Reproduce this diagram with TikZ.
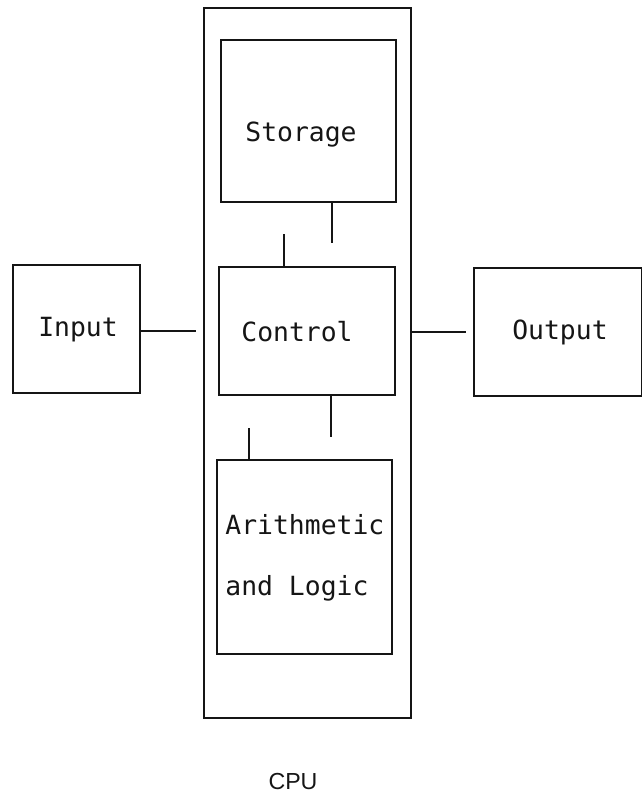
\documentclass[tikz,border=0pt]{standalone}
\usepackage{fontspec}
\setsansfont{Liberation Sans}
\setmonofont{DejaVu Sans Mono}
\usepackage{tikz}
\usetikzlibrary{positioning,calc}
\definecolor{ink}{HTML}{151515}
\tikzset{
  % --- nodes
  unit/.style  = {rectangle, draw=ink, line width=1.1pt, inner sep=0pt},
  txt/.style   = {font=\fontsize{13.2}{15}\selectfont\ttfamily, text=ink, inner sep=0pt},
  caption/.style = {font=\fontsize{11.6}{13}\selectfont\sffamily, text=ink, inner sep=0pt},
  % --- edges
  e/.style     = {draw=ink, line width=1.1pt},
}
\begin{document}
\begin{tikzpicture}[x=0.5pt,y=-0.5pt]
  \useasboundingbox (0,0) rectangle (642,794);

  % the processor and its parts
  \node[unit, minimum width=103.5pt, minimum height=355pt] (cpu) at (307.5,363) {};
  \node[unit, minimum width=87.5pt, minimum height=81pt]  (storage) at (308.5,121) {};
  \node[unit, minimum width=88pt, minimum height=64pt]    (control) at (307,331) {};
  \node[unit, minimum width=87.5pt, minimum height=97pt]  (alu) at (304.5,557) {};

  % outside units
  \node[unit, minimum width=63.5pt, minimum height=64pt]  (input) at (76.5,329) {};
  \node[unit, minimum width=84pt, minimum height=64pt]    (output) at (558,332) {};

  % texts
  \node[txt] (storagetxt) at (301,135) {Storage};
  \node[txt] (controltxt) at (297,332) {Control};
  \node[txt, anchor=west] (alutxt) at (225,525) {Arithmetic};
  \node[txt, anchor=west] (logictxt) at (225,588) {and Logic};
  \node[txt] (inputtxt) at (78,330) {Input};
  \node[txt] (outputtxt) at (560,332) {Output};
  \node[caption] (cputxt) at (293,782) {CPU};

  % loose ends of the links
  \coordinate (inend)  at (196,331);
  \coordinate (outend) at (466,332);
  \coordinate (s1) at (332,243);
  \coordinate (c1) at (284,234);
  \coordinate (c2) at (331,437);
  \coordinate (a1) at (249,428);

  \draw[e] (input.east |- inend) -- (inend);
  \draw[e] (cpu.east |- outend) -- (outend);
  \draw[e] (storage.south -| s1) -- (s1);
  \draw[e] (control.north -| c1) -- (c1);
  \draw[e] (control.south -| c2) -- (c2);
  \draw[e] (alu.north -| a1) -- (a1);
\end{tikzpicture}
\end{document}
